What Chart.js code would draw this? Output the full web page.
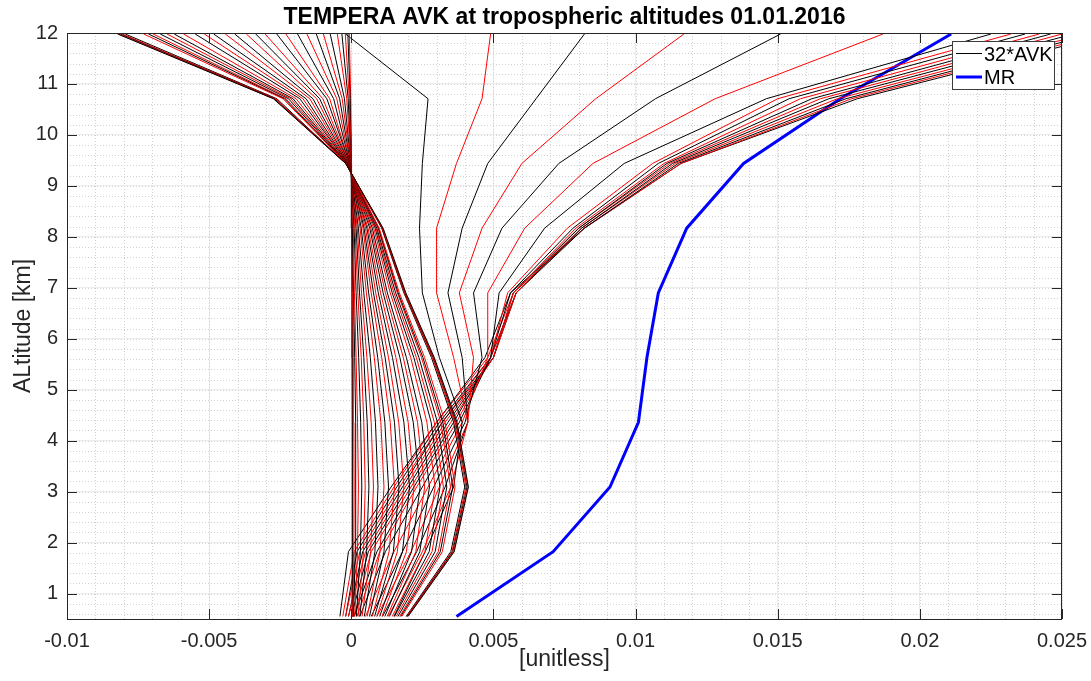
<!DOCTYPE html>
<html>
<head>
<meta charset="utf-8">
<script src="https://cdn.jsdelivr.net/npm/chart.js@4.4.1/dist/chart.umd.min.js"></script>
<style>
  html, body { margin: 0; padding: 0; background: #fff; }
</style>
</head>
<body>
<canvas id="avk" width="1091" height="681"></canvas>
<script>
// retrieval grid [km]
const altitudes = [0.55, 1.82, 3.09, 4.36, 5.63, 6.9, 8.17, 9.44, 10.71, 11.98];

// MR profile
const mixingRatio = [0.0037, 0.0071, 0.0091, 0.0101, 0.0104, 0.0108, 0.0118, 0.0138, 0.0172, 0.0211];

// kernels peaking low (go negative above 9.4 km)
const lowKernels = [
  [0.00200, 0.00362, 0.00412, 0.00372, 0.00292, 0.00192, 0.00112, -0.00020, -0.00274, -0.00822],
  [0.00198, 0.00360, 0.00410, 0.00370, 0.00290, 0.00190, 0.00110, -0.00020, -0.00272, -0.00818],
  [0.00197, 0.00357, 0.00407, 0.00368, 0.00288, 0.00189, 0.00109, -0.00019, -0.00270, -0.00812],
  [0.00195, 0.00354, 0.00403, 0.00364, 0.00285, 0.00187, 0.00108, -0.00019, -0.00266, -0.00805],
  [0.00193, 0.00350, 0.00399, 0.00360, 0.00282, 0.00185, 0.00107, -0.00019, -0.00262, -0.00795],
  [0.00178, 0.00320, 0.00365, 0.00330, 0.00258, 0.00169, 0.00098, -0.00018, -0.00240, -0.00730],
  [0.00174, 0.00313, 0.00357, 0.00322, 0.00252, 0.00165, 0.00096, -0.00017, -0.00235, -0.00713],
  [0.00170, 0.00306, 0.00349, 0.00315, 0.00247, 0.00162, 0.00094, -0.00017, -0.00230, -0.00697],
  [0.00164, 0.00295, 0.00336, 0.00303, 0.00238, 0.00156, 0.00090, -0.00016, -0.00221, -0.00672],
  [0.00158, 0.00284, 0.00324, 0.00292, 0.00229, 0.00150, 0.00087, -0.00016, -0.00213, -0.00648],
  [0.00152, 0.00274, 0.00312, 0.00281, 0.00220, 0.00144, 0.00084, -0.00015, -0.00205, -0.00623],
  [0.00144, 0.00259, 0.00295, 0.00266, 0.00209, 0.00137, 0.00079, -0.00014, -0.00194, -0.00590],
  [0.00134, 0.00241, 0.00275, 0.00248, 0.00194, 0.00127, 0.00074, -0.00013, -0.00181, -0.00549],
  [0.00126, 0.00227, 0.00258, 0.00233, 0.00183, 0.00120, 0.00069, -0.00013, -0.00170, -0.00517],
  [0.00118, 0.00212, 0.00242, 0.00218, 0.00171, 0.00112, 0.00065, -0.00012, -0.00159, -0.00484],
  [0.00108, 0.00194, 0.00221, 0.00200, 0.00157, 0.00103, 0.00059, -0.00011, -0.00146, -0.00443],
  [0.00100, 0.00180, 0.00205, 0.00185, 0.00145, 0.00095, 0.00055, -0.00010, -0.00135, -0.00410],
  [0.00090, 0.00162, 0.00185, 0.00167, 0.00131, 0.00086, 0.00050, -0.00009, -0.00122, -0.00369],
  [0.00082, 0.00148, 0.00168, 0.00152, 0.00119, 0.00078, 0.00045, -0.00008, -0.00111, -0.00336],
  [0.00074, 0.00133, 0.00152, 0.00137, 0.00107, 0.00070, 0.00041, -0.00007, -0.00100, -0.00303],
  [0.00064, 0.00115, 0.00131, 0.00118, 0.00093, 0.00061, 0.00035, -0.00006, -0.00086, -0.00262],
  [0.00056, 0.00101, 0.00115, 0.00104, 0.00081, 0.00053, 0.00031, -0.00006, -0.00076, -0.00230],
  [0.00046, 0.00083, 0.00094, 0.00085, 0.00067, 0.00044, 0.00025, -0.00005, -0.00062, -0.00189],
  [0.00038, 0.00068, 0.00078, 0.00070, 0.00055, 0.00036, 0.00021, -0.00004, -0.00051, -0.00156],
  [0.00030, 0.00054, 0.00062, 0.00056, 0.00044, 0.00029, 0.00017, -0.00003, -0.00041, -0.00123],
  [0.00024, 0.00043, 0.00049, 0.00044, 0.00035, 0.00023, 0.00013, -0.00002, -0.00032, -0.00098],
  [0.00018, 0.00032, 0.00037, 0.00033, 0.00026, 0.00017, 0.00010, -0.00002, -0.00024, -0.00074],
  [0.00012, 0.00022, 0.00025, 0.00022, 0.00017, 0.00011, 0.00007, -0.00001, -0.00016, -0.00049],
  [0.00008, 0.00014, 0.00016, 0.00015, 0.00012, 0.00008, 0.00004, -0.00001, -0.00011, -0.00033],
  [0.00005, 0.00009, 0.00010, 0.00009, 0.00007, 0.00005, 0.00003, 0.00000, -0.00007, -0.00021],
  [0.00003, 0.00005, 0.00006, 0.00006, 0.00004, 0.00003, 0.00002, 0.00000, -0.00004, -0.00012],
  [0.00002, 0.00003, 0.00003, 0.00003, 0.00002, 0.00002, 0.00001, 0.00000, -0.00002, -0.00007]
];

// kernels peaking high (go off to the right at the top)
const highKernels = [
  [0.0015, 0.0026, 0.0036, 0.0039, 0.0031, 0.0025, 0.0024, 0.0025, 0.0027, -0.0002],
  [0.0013, 0.0025, 0.0035, 0.0041, 0.0036, 0.0030, 0.0030, 0.0037, 0.0046, 0.0049],
  [0.0011, 0.0023, 0.0033, 0.0041, 0.0039, 0.0034, 0.0039, 0.0048, 0.0065, 0.0082],
  [0.0009, 0.0021, 0.0031, 0.0041, 0.0043, 0.0038, 0.0046, 0.0060, 0.0086, 0.0117],
  [0.0007, 0.0018, 0.0029, 0.0040, 0.0046, 0.0043, 0.0053, 0.0073, 0.0107, 0.0151],
  [0.0005, 0.0015, 0.0027, 0.0039, 0.0048, 0.0048, 0.0061, 0.0085, 0.0128, 0.0187],
  [0.0003, 0.0012, 0.0025, 0.0038, 0.0049, 0.0052, 0.0068, 0.0096, 0.0146, 0.0225],
  [0.0002, 0.0010, 0.0023, 0.0037, 0.0049, 0.0055, 0.0076, 0.0106, 0.0150, 0.0232],
  [0.0001, 0.0009, 0.0022, 0.0036, 0.0049, 0.0056, 0.0078, 0.0108, 0.0154, 0.0237],
  [0.0001, 0.0007, 0.0021, 0.0035, 0.0050, 0.0057, 0.0079, 0.0110, 0.0158, 0.0242],
  [0.0000, 0.0006, 0.0020, 0.0034, 0.0050, 0.0057, 0.0080, 0.0111, 0.0162, 0.0246],
  [-0.0001, 0.0005, 0.0019, 0.0033, 0.0050, 0.0058, 0.0080, 0.0112, 0.0165, 0.0250],
  [-0.0001, 0.0004, 0.0018, 0.0032, 0.0050, 0.0058, 0.0081, 0.0113, 0.0168, 0.0254],
  [-0.0002, 0.0003, 0.0017, 0.0032, 0.0049, 0.0058, 0.0081, 0.0114, 0.0171, 0.0258],
  [-0.0002, 0.0002, 0.0016, 0.0031, 0.0049, 0.0058, 0.0082, 0.0115, 0.0174, 0.0261],
  [-0.0003, 0.0001, 0.0015, 0.0030, 0.0048, 0.0057, 0.0082, 0.0116, 0.0176, 0.0264],
  [-0.0004, -0.0001, 0.0014, 0.0030, 0.0047, 0.0056, 0.0082, 0.0116, 0.0178, 0.0267]
];

const xTicks = [-0.01, -0.005, 0, 0.005, 0.01, 0.015, 0.02, 0.025];
const yTicks = [1, 2, 3, 4, 5, 6, 7, 8, 9, 10, 11, 12];

const FONT = "'Liberation Sans', Arial, Helvetica, sans-serif";
const AXIS = '#262626';

const kernels = lowKernels.concat(highKernels);
const datasets = kernels.map((row, i) => ({
  label: '32*AVK',
  data: row.map((v, k) => ({ x: v, y: altitudes[k] })),
  showLine: true,
  borderColor: i % 2 === 0 ? '#000000' : '#ff0000',
  borderWidth: 1,
  pointRadius: 0,
  tension: 0
}));
datasets.push({
  label: 'MR',
  data: mixingRatio.map((v, k) => ({ x: v, y: altitudes[k] })),
  showLine: true,
  borderColor: '#0000ff',
  borderWidth: 3,
  pointRadius: 0,
  tension: 0
});

// matlab look: dotted minor grid, box, inward ticks, title, legend
const matlabFrame = {
  id: 'matlabFrame',
  beforeDatasetsDraw(chart) {
    const { ctx, chartArea: a, scales: { x, y } } = chart;
    ctx.save();
    ctx.strokeStyle = '#d2d2d2';
    ctx.lineWidth = 1;
    ctx.setLineDash([1, 2]);
    ctx.beginPath();
    for (let i = -10; i <= 25; i++) {
      const px = Math.round(x.getPixelForValue(i / 1000)) + 0.5;
      ctx.moveTo(px, a.top); ctx.lineTo(px, a.bottom);
    }
    for (let i = 3; i <= 60; i++) {
      const py = Math.round(y.getPixelForValue(i / 5)) + 0.5;
      ctx.moveTo(a.left, py); ctx.lineTo(a.right, py);
    }
    ctx.stroke();
    ctx.restore();
  },
  afterDatasetsDraw(chart) {
    const { ctx, chartArea: a, scales: { x, y } } = chart;
    ctx.save();
    ctx.strokeStyle = AXIS;
    ctx.lineWidth = 1;
    ctx.setLineDash([]);
    ctx.strokeRect(a.left + 0.5, a.top + 0.5, a.right - a.left - 1, a.bottom - a.top);
    ctx.beginPath();
    xTicks.forEach(v => {
      const px = Math.round(x.getPixelForValue(v)) + 0.5;
      ctx.moveTo(px, a.bottom); ctx.lineTo(px, a.bottom - 10);
      ctx.moveTo(px, a.top); ctx.lineTo(px, a.top + 10);
    });
    yTicks.forEach(v => {
      const py = Math.round(y.getPixelForValue(v)) + 0.5;
      ctx.moveTo(a.left, py); ctx.lineTo(a.left + 10, py);
      ctx.moveTo(a.right, py); ctx.lineTo(a.right - 10, py);
    });
    ctx.stroke();

    // title
    ctx.fillStyle = '#000';
    ctx.font = 'bold 23px ' + FONT;
    ctx.textAlign = 'center';
    ctx.textBaseline = 'alphabetic';
    ctx.fillText('TEMPERA AVK at tropospheric altitudes 01.01.2016', (a.left + a.right) / 2, 24);

    // legend
    const lx = 952.5, ly = 41.5, lw = 102, lh = 48;
    ctx.fillStyle = '#fff';
    ctx.fillRect(lx, ly, lw, lh);
    ctx.strokeStyle = '#3c3c3c';
    ctx.strokeRect(lx, ly, lw, lh);
    ctx.lineWidth = 1;
    ctx.strokeStyle = '#000';
    ctx.beginPath(); ctx.moveTo(956, 53.5); ctx.lineTo(982, 53.5); ctx.stroke();
    ctx.lineWidth = 3;
    ctx.strokeStyle = '#0000ff';
    ctx.beginPath(); ctx.moveTo(956, 77); ctx.lineTo(982, 77); ctx.stroke();
    ctx.fillStyle = '#000';
    ctx.font = '20px ' + FONT;
    ctx.textAlign = 'left';
    ctx.fillText('32*AVK', 984, 61);
    ctx.fillText('MR', 984, 84);
    ctx.restore();
  }
};

new Chart(document.getElementById('avk'), {
  type: 'scatter',
  data: { datasets },
  options: {
    responsive: false,
    devicePixelRatio: 1,
    animation: false,
    layout: { padding: { top: 33, right: 29, left: 0, bottom: 0 } },
    plugins: { legend: { display: false }, tooltip: { enabled: false } },
    scales: {
      x: {
        type: 'linear',
        min: -0.01,
        max: 0.025,
        afterBuildTicks: s => { s.ticks = xTicks.map(v => ({ value: v })); },
        afterFit: s => { s.height = 62; s.paddingLeft = 0; s.paddingRight = 0; },
        grid: { color: '#ececec', drawTicks: false },
        border: { display: false },
        ticks: {
          color: AXIS, padding: 10, maxRotation: 0, autoSkip: false,
          font: { family: FONT, size: 20 },
          callback: v => String(+v.toFixed(4))
        },
        title: {
          display: true, text: '[unitless]', color: AXIS,
          font: { family: FONT, size: 23 }, padding: { top: 0, bottom: 8 }
        }
      },
      y: {
        type: 'linear',
        min: 0.5,
        max: 12,
        afterBuildTicks: s => { s.ticks = yTicks.map(v => ({ value: v })); },
        afterFit: s => { s.width = 67; s.paddingTop = 0; s.paddingBottom = 0; },
        grid: { color: '#ececec', drawTicks: false },
        border: { display: false },
        ticks: {
          color: AXIS, padding: 9, autoSkip: false,
          font: { family: FONT, size: 20 }
        },
        title: {
          display: true, text: 'ALtitude [km]', color: AXIS,
          font: { family: FONT, size: 23 }, padding: { top: 10, bottom: 0 }
        }
      }
    }
  },
  plugins: [matlabFrame]
});
</script>
</body>
</html>
